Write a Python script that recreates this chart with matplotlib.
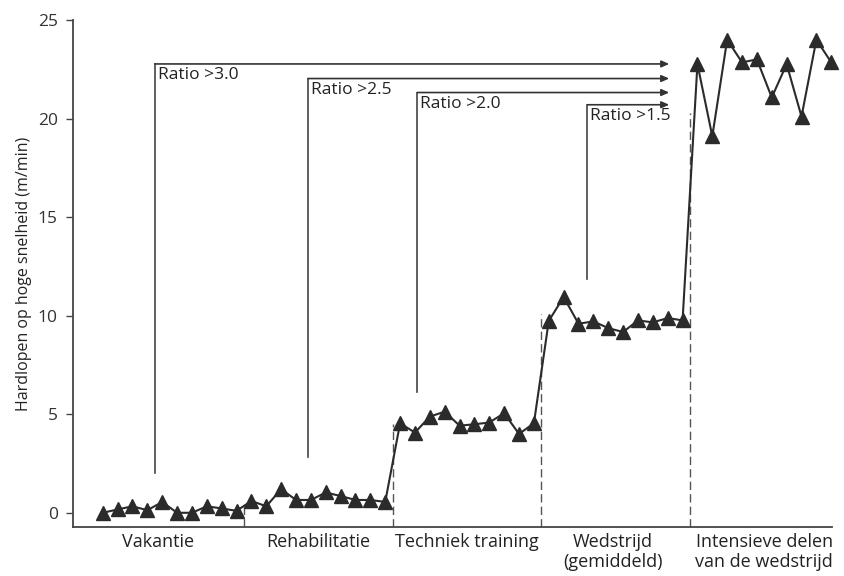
import matplotlib
matplotlib.use("Agg")
import matplotlib.pyplot as plt
import numpy as np

plt.rcParams['font.family'] = ['Open Sans', 'DejaVu Sans']

# ---- data ----
vakantie = [0.0, 0.17, 0.33, 0.13, 0.55, 0.0, 0.0, 0.33, 0.22, 0.1]
rehabilitatie = [0.6, 0.33, 1.2, 0.65, 0.65, 1.03, 0.85, 0.65, 0.65, 0.55]
techniek = [4.54, 4.07, 4.88, 5.13, 4.42, 4.49, 4.58, 5.05, 4.0, 4.54]
wedstrijd = [9.73, 10.95, 9.59, 9.71, 9.37, 9.17, 9.76, 9.66, 9.88, 9.76]
intensief = [22.76, 19.1, 24.0, 22.85, 23.0, 21.07, 22.76, 20.1, 24.0, 22.85]

categories = ["Vakantie", "Rehabilitatie", "Techniek training",
              "Wedstrijd\n(gemiddeld)", "Intensieve delen\nvan de wedstrijd"]
category_x = [3.75, 14.5, 24.5, 34.3, 44.5]

divider_x = [9.5, 19.5, 29.5, 39.5]
divider_top = [0.5, 4.5, 10.1, 20.3]

ratio_labels = ["Ratio >3.0", "Ratio >2.5", "Ratio >2.0", "Ratio >1.5"]
ratio_x = [3.5, 13.8, 21.15, 32.6]
ratio_bottom = [2.03, 2.85, 6.14, 11.85]
ratio_top = [22.77, 22.03, 21.32, 20.7]
ratio_arrow_end = 38.1

yticks = [0, 5, 10, 15, 20, 25]

values = vakantie + rehabilitatie + techniek + wedstrijd + intensief
x = np.arange(len(values))

fig = plt.figure(figsize=(8.45, 5.76), dpi=100)
ax = fig.add_axes([0.0864, 0.0851, 0.9846 - 0.0864, 0.9653 - 0.0851])

dark = '#2b2b2b'
ax.plot(x, values, color=dark, lw=1.5, marker='^', markersize=10,
        markerfacecolor=dark, markeredgecolor=dark, clip_on=False, zorder=3)

for dx, top in zip(divider_x, divider_top):
    ax.plot([dx, dx], [-0.72, top], color='#555555', lw=1.0,
            dashes=(6, 3), zorder=1)

for lab, rx, rb, rt in zip(ratio_labels, ratio_x, ratio_bottom, ratio_top):
    ax.plot([rx, rx], [rb, rt], color='#444444', lw=1.2, zorder=2)
    ax.annotate("", xy=(ratio_arrow_end, rt), xytext=(rx, rt),
                arrowprops=dict(arrowstyle='-|>,head_length=0.45,head_width=0.2',
                                color='#333333', lw=1.2, shrinkA=0, shrinkB=0))
    ax.annotate(lab, xy=(rx, rt), xytext=(2, -2.5), textcoords='offset points',
                ha='left', va='top', fontsize=12.5, color='#222222')

ax.set_xlim(-2, 49.05)
ax.set_ylim(-0.72, 25)
ax.set_yticks(yticks)
ax.set_xticks([])

for s in ['top', 'right']:
    ax.spines[s].set_visible(False)
for s in ['left', 'bottom']:
    ax.spines[s].set_color('#444444')
    ax.spines[s].set_linewidth(1.3)
ax.spines['left'].set_bounds(-0.72, 25)

ax.tick_params(axis='y', length=5, width=1, color='#444444',
               labelsize=12.5, labelcolor='#333333', pad=6)
ax.set_ylabel("Hardlopen op hoge snelheid (m/min)", fontsize=11.5,
              color='#222222', labelpad=4)

for cx, cat in zip(category_x, categories):
    ax.text(cx, -1.0, cat, ha='center', va='top',
            fontsize=13, color='#222222', linespacing=1.15)

fig.savefig("out.png", dpi=100)
